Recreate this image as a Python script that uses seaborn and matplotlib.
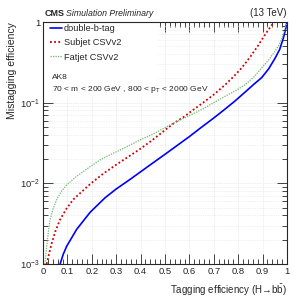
import matplotlib
matplotlib.use("Agg")
import matplotlib.pyplot as plt
import matplotlib.ticker as mticker
from matplotlib.patches import Rectangle
import seaborn as sns
import numpy as np
import pandas as pd

# ROC curves (tagging eff vs mistag eff)
dbt_eff = [0.07, 0.083, 0.097, 0.138, 0.193, 0.254, 0.30, 0.357, 0.44, 0.50, 0.55, 0.60, 0.643,
           0.70, 0.746, 0.787, 0.828, 0.865, 0.896, 0.925, 0.951, 0.97, 0.985, 0.995, 1.0]
dbt_mis = [1.0e-3, 1.32e-3, 1.66e-3, 2.69e-3, 4.37e-3, 6.61e-3, 8.51e-3, 1.12e-2, 1.70e-2, 2.29e-2,
           2.95e-2, 3.80e-2, 4.79e-2, 6.46e-2, 8.32e-2, 1.05e-1, 1.35e-1, 1.70e-1, 2.04e-1, 2.63e-1,
           3.55e-1, 4.57e-1, 6.31e-1, 8.32e-1, 1.0]

sub_eff = [0.015, 0.025, 0.036, 0.05, 0.07, 0.095, 0.124, 0.16, 0.193, 0.247, 0.30, 0.35, 0.40, 0.45,
           0.50, 0.534, 0.58, 0.62, 0.66, 0.70, 0.746, 0.78, 0.814, 0.85, 0.882, 0.905, 0.924, 0.94,
           0.951, 1.0]
sub_mis = [1.0e-3, 1.35e-3, 1.82e-3, 2.51e-3, 3.55e-3, 4.79e-3, 6.31e-3, 7.94e-3, 9.77e-3, 1.32e-2,
           1.70e-2, 2.14e-2, 2.69e-2, 3.47e-2, 4.57e-2, 5.50e-2, 6.76e-2, 8.32e-2, 1.02e-1, 1.26e-1,
           1.66e-1, 2.09e-1, 2.69e-1, 3.72e-1, 5.13e-1, 6.61e-1, 8.04e-1, 9.33e-1, 1.0, 1.0]

fat_eff = [0.008, 0.015, 0.022, 0.029, 0.04, 0.056, 0.075, 0.097, 0.13, 0.165, 0.20, 0.234, 0.275,
           0.316, 0.36, 0.40, 0.45, 0.50, 0.534, 0.58, 0.62, 0.66, 0.70, 0.746, 0.79, 0.828, 0.865,
           0.896, 0.925, 0.951, 0.97, 0.985, 0.995, 1.0]
fat_mis = [1.0e-3, 1.64e-3, 2.51e-3, 3.55e-3, 4.68e-3, 6.31e-3, 7.94e-3, 9.55e-3, 1.17e-2, 1.40e-2,
           1.66e-2, 1.95e-2, 2.26e-2, 2.59e-2, 3.02e-2, 3.47e-2, 4.07e-2, 4.90e-2, 5.56e-2, 6.46e-2,
           7.41e-2, 8.51e-2, 1.0e-1, 1.20e-1, 1.41e-1, 1.67e-1, 2.09e-1, 2.69e-1, 3.39e-1, 4.34e-1,
           5.37e-1, 6.97e-1, 8.91e-1, 1.0]

labels = ["double-b-tag", "Subjet CSVv2", "Fatjet CSVv2"]
x_ticks = [0, 0.1, 0.2, 0.3, 0.4, 0.5, 0.6, 0.7, 0.8, 0.9, 1]
x_tick_labels = ["0", "0.1", "0.2", "0.3", "0.4", "0.5", "0.6", "0.7", "0.8", "0.9", "1"]
y_ticks = [1e-3, 1e-2, 1e-1, 1]
y_tick_labels = [r"$10^{-3}$", r"$10^{-2}$", r"$10^{-1}$", "1"]

sns.set_style("ticks")
plt.rcParams['font.family'] = ['Liberation Sans', 'DejaVu Sans']
plt.rcParams['mathtext.fontset'] = 'custom'
plt.rcParams['mathtext.rm'] = 'Liberation Sans'
plt.rcParams['mathtext.it'] = 'Liberation Sans:italic'

fig = plt.figure(figsize=(3.05, 3.05), dpi=100)
ax = fig.add_axes([43/305, 41/305, 244/305, 242/305])
ax.set_axisbelow(True)

styles = [("#0000ff", "-", 1.2), ("#cc0000", (0, (1, 1.3)), 1.3), ("#6cb86c", (0, (1, 1)), 0.9)]
curves = [(dbt_eff, dbt_mis), (sub_eff, sub_mis), (fat_eff, fat_mis)]
for (xs, ys), lab, (c, ls, lw) in zip(curves, labels, styles):
    df = pd.DataFrame({"eff": xs, "mis": ys})
    sns.lineplot(data=df, x="eff", y="mis", ax=ax, color=c, linestyle=ls,
                 linewidth=lw, label=lab, sort=False, estimator=None, zorder=3)

ax.set_yscale("log")
ax.set_xlim(0, 1)
ax.set_ylim(1e-3, 1)
ax.set_xticks(x_ticks)
ax.set_xticklabels(x_tick_labels)
ax.xaxis.set_minor_locator(mticker.MultipleLocator(0.02))
ax.yaxis.set_major_locator(mticker.FixedLocator(y_ticks))
ax.set_yticklabels(y_tick_labels)
ax.yaxis.set_minor_locator(mticker.LogLocator(base=10, subs=np.arange(2, 10)))
ax.yaxis.set_minor_formatter(mticker.NullFormatter())

ax.tick_params(which="both", direction="in", top=True, right=True, labelsize=6.8, width=0.6, pad=2)
ax.tick_params(which="major", length=7)
ax.tick_params(which="minor", length=3.5)
for s in ax.spines.values():
    s.set_linewidth(0.8)
    s.set_zorder(5)

ax.grid(True, which="major", color="#d9d9d9", linestyle=(0, (1, 1.5)), linewidth=0.5)
ax.grid(True, which="minor", axis="y", color="#e3e3e3", linestyle=(0, (1, 1.5)), linewidth=0.5)

# white box behind legend and labels hides the grid there
ax.add_patch(Rectangle((0.003, 0.69), 0.47, 0.307, transform=ax.transAxes,
                       facecolor="white", edgecolor="none", zorder=2))

ax.set_xlabel(r"Tagging efficiency (H→b$\bar{\rm b}$)", fontsize=7, ha="right", va="top")
ax.xaxis.set_label_coords(1.0, -0.075)
ax.set_ylabel("Mistagging efficiency", fontsize=7.5, ha="right")
ax.yaxis.set_label_coords(-0.105, 1.0)

leg = ax.legend(loc="upper left", frameon=False, fontsize=6.6, handlelength=1.25,
                handletextpad=0.25, labelspacing=0.55, borderpad=0, borderaxespad=0,
                bbox_to_anchor=(0.03, 0.99))
leg.set_zorder(6)

ax.text(0.037, 0.77, "AK8", transform=ax.transAxes, fontsize=6, va="center", zorder=6)
ax.text(0.037, 0.72, r"70 < m < 200 GeV , 800 < p$_{\rm T}$ < 2000 GeV",
        transform=ax.transAxes, fontsize=6, va="center", zorder=6)

fig.text(45/305, 1 - 13/305, "CMS", fontsize=6.5, fontweight="bold", va="center")
fig.text(66/305, 1 - 13.5/305, "Simulation Preliminary", fontsize=6.3, style="italic", va="center")
fig.text(287/305, 1 - 13/305, "(13 TeV)", fontsize=7, ha="right", va="center")

fig.savefig("out.png", dpi=100)
plt.close(fig)
